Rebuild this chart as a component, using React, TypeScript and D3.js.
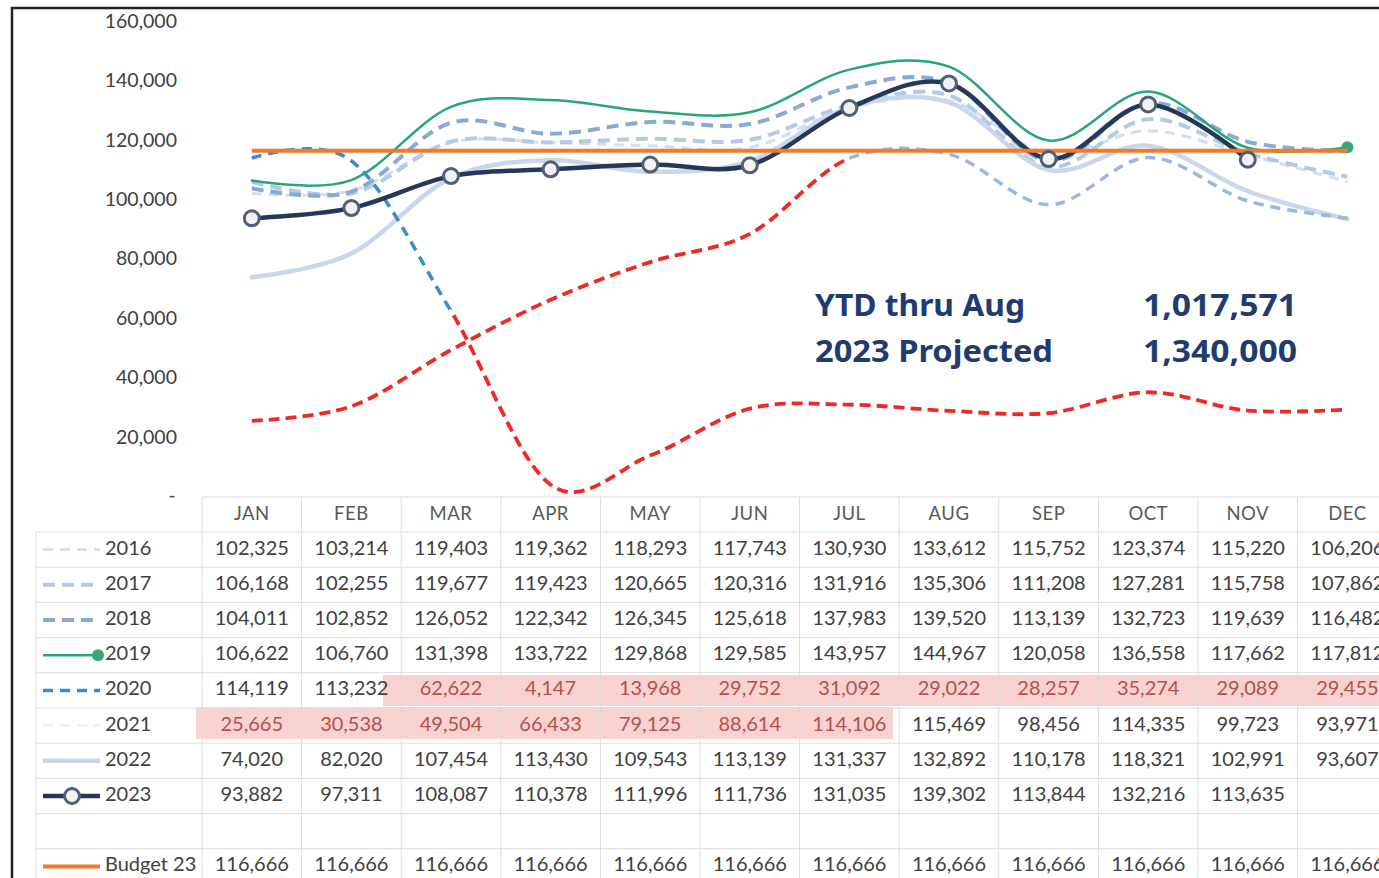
import React from "react";
import * as d3 from "d3";

const MONTHS = ["JAN","FEB","MAR","APR","MAY","JUN","JUL","AUG","SEP","OCT","NOV","DEC"];
const Y_TICKS = [20000, 40000, 60000, 80000, 100000, 120000, 140000, 160000];

const S2016 = [102325,103214,119403,119362,118293,117743,130930,133612,115752,123374,115220,106206];
const S2017 = [106168,102255,119677,119423,120665,120316,131916,135306,111208,127281,115758,107862];
const S2018 = [104011,102852,126052,122342,126345,125618,137983,139520,113139,132723,119639,116482];
const S2019 = [106622,106760,131398,133722,129868,129585,143957,144967,120058,136558,117662,117812];
const S2020 = [114119,113232,62622,4147,13968,29752,31092,29022,28257,35274,29089,29455];
const S2021 = [25665,30538,49504,66433,79125,88614,114106,115469,98456,114335,99723,93971];
const S2022 = [74020,82020,107454,113430,109543,113139,131337,132892,110178,118321,102991,93607];
const S2023 = [93882,97311,108087,110378,111996,111736,131035,139302,113844,132216,113635];
const BUDGET = [116666,116666,116666,116666,116666,116666,116666,116666,116666,116666,116666,116666];

const ROW_LABELS = ["2016","2017","2018","2019","2020","2021","2022","2023","","Budget 23"];
const YTD_LABEL = "YTD thru Aug";
const YTD_VALUE = "1,017,571";
const PROJ_LABEL = "2023 Projected";
const PROJ_VALUE = "1,340,000";

const W = 1379, H = 878;
const colW = 99.6;
const tableLeft = 202;
const x = d3.scaleBand<string>().domain(MONTHS).range([tableLeft, tableLeft + 12 * colW]);
const cx = (m: string) => (x(m) as number) + x.bandwidth() / 2;
const y = d3.scaleLinear().domain([0, 160000]).range([497, 22]);
const fmt = d3.format(",");

const lineGen = d3
  .line<[string, number]>()
  .x((d) => cx(d[0]))
  .y((d) => y(d[1]))
  .curve(d3.curveCatmullRom.alpha(0));

const pathOf = (vals: number[]) => lineGen(vals.map((v, i) => [MONTHS[i], v] as [string, number])) || "";

type Style = { color: string; width: number; dash?: string };
const ST: Record<string, Style> = {
  s2016: { color: "#d3dfee", width: 3, dash: "10 7" },
  s2017: { color: "#b3c9e5", width: 4, dash: "12 7" },
  s2018: { color: "#88aad6", width: 4, dash: "12 7" },
  s2019: { color: "#28a57a", width: 2.5 },
  s2020: { color: "#3a8bcb", width: 3.5, dash: "10 7" },
  s2021: { color: "#98b8e0", width: 3.5, dash: "10 7" },
  s2021leg: { color: "#eef2f8", width: 3, dash: "10 7" },
  s2022: { color: "#c8d7eb", width: 4.5 },
  s2023: { color: "#26385a", width: 4.5 },
  red: { color: "#ee2a24", width: 3.8, dash: "11 6" },
  budget: { color: "#f07b2b", width: 4 },
};

const rowTop = 532;
const rowH = 35.2;
const rowCenter = (i: number) => rowTop + rowH * i + rowH / 2;
const ROW_DATA: (number[] | null)[] = [S2016, S2017, S2018, S2019, S2020, S2021, S2022, S2023, null, BUDGET];

export default function App() {
  const marX = cx("MAR");
  const julX = cx("JUL");
  const font = "Lato, 'Noto Sans', sans-serif";
  const P = (vals: number[], s: Style, extra: any = {}) => (
    <path
      d={pathOf(vals)}
      fill="none"
      stroke={s.color}
      strokeWidth={s.width}
      strokeDasharray={s.dash}
      strokeLinecap={s.dash ? "butt" : "round"}
      strokeLinejoin="round"
      {...extra}
    />
  );

  const legendSample = (i: number) => {
    const cy = rowCenter(i);
    const x0 = 43, x1 = 100;
    const ln = (s: Style, xe = x1) => (
      <line x1={x0} x2={xe} y1={cy} y2={cy} stroke={s.color} strokeWidth={s.width} strokeDasharray={s.dash} />
    );
    switch (i) {
      case 0: return ln(ST.s2016);
      case 1: return ln(ST.s2017);
      case 2: return ln(ST.s2018);
      case 3: return (<g>{ln(ST.s2019, 97)}<circle cx={98} cy={cy} r={6} fill="#3aa57a" /></g>);
      case 4: return ln(ST.s2020);
      case 5: return ln(ST.s2021leg);
      case 6: return ln(ST.s2022);
      case 7: return (<g>{ln(ST.s2023)}<circle cx={72} cy={cy} r={7.5} fill="#f2f2f2" stroke="#4f5f76" strokeWidth={3} /></g>);
      case 9: return ln(ST.budget);
      default: return null;
    }
  };

  return (
    <svg width={W} height={H} style={{ position: "absolute", left: 0, top: 0, background: "#fff" }} fontFamily={font}>
      <defs>
        <clipPath id="beforeMar"><rect x={0} y={0} width={marX} height={H} /></clipPath>
        <clipPath id="afterMar"><rect x={marX} y={0} width={W} height={H} /></clipPath>
        <clipPath id="beforeJul"><rect x={0} y={0} width={julX} height={H} /></clipPath>
        <clipPath id="afterJul"><rect x={julX} y={0} width={W} height={H} /></clipPath>
      </defs>
      <rect x={0} y={0} width={W} height={H} fill="#fff" />

      {/* highlights */}
      <rect x={383} y={675} width={W} height={31} fill="#f4b3b3" opacity={0.6} />
      <rect x={196} y={707} width={697} height={32} fill="#f4b3b3" opacity={0.6} />

      {/* table grid */}
      <g stroke="#dcdcdc" strokeWidth={1}>
        <line x1={tableLeft} x2={W} y1={497} y2={497} />
        {d3.range(0, 11).map((k) => (
          <line key={k} x1={36} x2={W} y1={rowTop + rowH * k} y2={rowTop + rowH * k} />
        ))}
        <line x1={36} x2={36} y1={rowTop} y2={H} />
        {d3.range(0, 13).map((k) => (
          <line key={"v" + k} x1={tableLeft + colW * k} x2={tableLeft + colW * k} y1={497} y2={H} />
        ))}
      </g>

      {/* month headers */}
      {MONTHS.map((m) => (
        <text key={m} x={cx(m)} y={515} textAnchor="middle" dominantBaseline="middle" fontSize={18.5} fill="#595959" letterSpacing={0.5}>{m}</text>
      ))}

      {/* row labels + legend samples */}
      {ROW_LABELS.map((lab, i) => (
        <g key={"r" + i}>
          {legendSample(i)}
          <text x={105} y={rowCenter(i)} dominantBaseline="middle" fontSize={20} fill="#404040">{lab}</text>
        </g>
      ))}

      {/* table values */}
      {ROW_DATA.map((vals, i) =>
        vals ? vals.map((v, j) => {
          const red = (i === 4 && j >= 2) || (i === 5 && j <= 6);
          return (
            <text key={i + "-" + j} x={cx(MONTHS[j])} y={rowCenter(i)} textAnchor="middle" dominantBaseline="middle" fontSize={20} fill={red ? "#b4514c" : "#404040"}>{fmt(v)}</text>
          );
        }) : null
      )}

      {/* y axis labels */}
      {Y_TICKS.map((t) => (
        <text key={t} x={177} y={y(t) + 1} textAnchor="end" dominantBaseline="middle" fontSize={19.5} fill="#404040">{fmt(t)}</text>
      ))}
      <text x={172} y={y(0)} textAnchor="middle" dominantBaseline="middle" fontSize={19} fill="#404040">-</text>

      {/* lines */}
      {P(S2016, ST.s2016)}
      {P(S2017, ST.s2017)}
      {P(S2022, ST.s2022)}
      {P(S2018, ST.s2018)}
      {P(S2021, ST.s2021, { clipPath: "url(#afterJul)" })}
      {P(S2021, ST.red, { clipPath: "url(#beforeJul)" })}
      {P(S2020, ST.s2020, { clipPath: "url(#beforeMar)" })}
      {P(S2020, ST.red, { clipPath: "url(#afterMar)" })}
      {P(S2019, ST.s2019)}
      <circle cx={cx("DEC")} cy={y(S2019[11])} r={6} fill="#3aa57a" />
      {P(S2023, ST.s2023)}
      {P(BUDGET, ST.budget, { strokeLinecap: "butt" })}
      {S2023.map((v, i) => (
        <circle key={"m" + i} cx={cx(MONTHS[i])} cy={y(v)} r={7.5} fill="#f2f2f2" stroke="#4f5f76" strokeWidth={3} />
      ))}

      {/* annotation */}
      <g fontFamily="'Noto Sans', sans-serif" fontWeight={700} fontSize={30} fill="#1f3b70">
        <text x={815} y={316} textLength={210} lengthAdjust="spacingAndGlyphs">{YTD_LABEL}</text>
        <text x={1143} y={316} textLength={154} lengthAdjust="spacingAndGlyphs">{YTD_VALUE}</text>
        <text x={815} y={362} textLength={238} lengthAdjust="spacingAndGlyphs">{PROJ_LABEL}</text>
        <text x={1143} y={362} textLength={154} lengthAdjust="spacingAndGlyphs">{PROJ_VALUE}</text>
      </g>

      {/* frame */}
      <rect x={12} y={8} width={W + 20} height={H + 20} fill="none" stroke="#222" strokeWidth={2.5} />
    </svg>
  );
}
